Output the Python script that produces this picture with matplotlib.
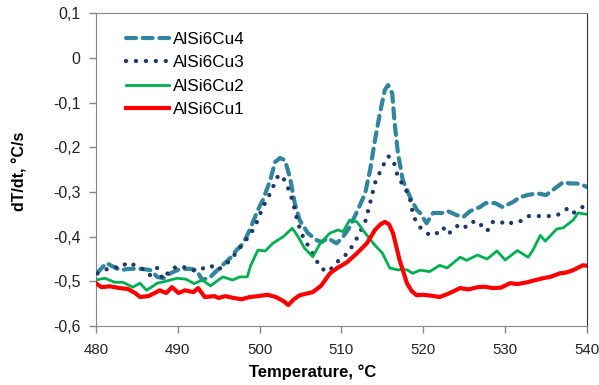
import matplotlib.pyplot as plt
from matplotlib.ticker import FixedLocator

plt.rcParams['font.family'] = ['Liberation Sans', 'DejaVu Sans']

# AlSi6Cu1 (red)
t_cu1 = [480, 480.7, 481.7, 482.9, 483.9, 484.8, 485.4, 486.4, 487.2, 487.8, 488.6, 489.3,
         490.1, 490.9, 491.9, 492.5, 493.3, 494.5, 495, 495.8, 496.8, 497.8, 498.8, 499.8,
         501, 502, 503, 503.5, 504.2, 504.9, 506.5, 507.5, 508.6, 509.5, 510.7, 511.9, 513.1,
         514.1, 514.8, 515.3, 515.8, 516.3, 517.1, 518, 518.6, 519.2, 520, 521, 522, 523,
         524.5, 525.5, 526.6, 527.5, 528.5, 529.5, 530.6, 531.5, 532.7, 533.5, 534.6, 535.5,
         536.7, 537.5, 538.3, 539.5, 540]
v_cu1 = [-0.504, -0.513, -0.511, -0.515, -0.517, -0.526, -0.535, -0.533, -0.526, -0.52, -0.526, -0.513,
         -0.526, -0.52, -0.524, -0.515, -0.535, -0.533, -0.537, -0.533, -0.537, -0.54, -0.535, -0.533,
         -0.53, -0.535, -0.545, -0.553, -0.54, -0.531, -0.524, -0.51, -0.482, -0.47, -0.457, -0.437, -0.415,
         -0.385, -0.372, -0.367, -0.372, -0.392, -0.452, -0.504, -0.522, -0.531, -0.53, -0.532, -0.535, -0.528,
         -0.515, -0.518, -0.513, -0.512, -0.515, -0.514, -0.504, -0.506, -0.502, -0.498, -0.493, -0.49,
         -0.482, -0.48, -0.475, -0.464, -0.465]

# AlSi6Cu2 (green)
t_cu2 = [480, 481.1, 482.3, 483.3, 484.5, 485.4, 486.2, 487.5, 488.5, 489.9, 491, 492, 493, 494,
         495.5, 496.7, 497.6, 498.5, 498.9, 499.8, 500.7, 501.6, 502.9, 504, 504.7, 505.5, 506.5,
         507.4, 508.6, 509.6, 510.2, 511, 511.9, 512.9, 513.9, 515, 515.9, 516.8, 518, 518.7,
         519.6, 520.8, 522, 522.9, 524.5, 525.3, 526.6, 527.8, 529, 530, 531.5, 532.8, 533.4,
         534.3, 534.9, 536.3, 537.1, 538.3, 538.9, 540]
v_cu2 = [-0.497, -0.493, -0.502, -0.502, -0.513, -0.504, -0.52, -0.504, -0.5, -0.493, -0.495, -0.505, -0.497, -0.51,
         -0.49, -0.497, -0.49, -0.49, -0.465, -0.43, -0.432, -0.415, -0.4, -0.381, -0.4, -0.426, -0.445,
         -0.415, -0.392, -0.385, -0.389, -0.363, -0.367, -0.392, -0.415, -0.437, -0.47, -0.474, -0.474, -0.482,
         -0.475, -0.478, -0.464, -0.47, -0.446, -0.453, -0.441, -0.45, -0.432, -0.452, -0.431, -0.446, -0.43,
         -0.397, -0.41, -0.383, -0.38, -0.363, -0.347, -0.35]

# AlSi6Cu3 (navy, dotted)
t_cu3 = [480.2, 481, 482.1, 483, 483.9, 485, 486, 486.6, 487.5, 488.2, 489.2, 490.3, 491.3, 492.3,
         493.2, 494, 494.8, 495.8, 496.6, 497.2, 498, 498.8, 499.5, 500.4, 501.3, 502.3, 502.8,
         503.7, 504.1, 504.7, 505.3, 506.4, 507.4, 508.2, 509, 509.8, 510.8, 511.9, 512.9, 513.5,
         514.1, 515, 515.7, 516.3, 516.9, 517.8, 518.4, 518.8, 519.6, 520.8, 521.5, 522.4, 523,
         524.1, 524.9, 525.7, 526.9, 527.3, 528, 528.5, 529.3, 530.2, 531.2, 532, 532.8, 533.8,
         534.6, 535.4, 536.2, 537.1, 537.7, 538.3, 539.1, 540]
v_cu3 = [-0.482, -0.475, -0.468, -0.47, -0.457, -0.466, -0.475, -0.486, -0.47, -0.495, -0.472, -0.465, -0.472, -0.477,
         -0.47, -0.464, -0.475, -0.464, -0.448, -0.435, -0.415, -0.397, -0.375, -0.334, -0.303, -0.262, -0.265,
         -0.3, -0.325, -0.37, -0.4, -0.435, -0.468, -0.479, -0.468, -0.45, -0.437, -0.403, -0.367, -0.325,
         -0.28, -0.244, -0.22, -0.227, -0.267, -0.292, -0.318, -0.355, -0.379, -0.397, -0.395, -0.379, -0.395,
         -0.376, -0.383, -0.367, -0.367, -0.385, -0.385, -0.367, -0.365, -0.374, -0.365, -0.365, -0.354, -0.354,
         -0.354, -0.354, -0.354, -0.343, -0.336, -0.347, -0.339, -0.325]

# AlSi6Cu4 (teal, dashed)
t_cu4 = [480.1, 481.3, 482, 483, 484, 485.6, 486.7, 487.5, 488.3, 489.1, 490.3, 491.6, 492.3, 493,
         494, 495, 496.4, 497.2, 498, 498.8, 499.8, 500.4, 501.3, 501.9, 502.5, 503.1, 503.7, 504.3,
         504.9, 505.9, 507, 507.6, 508.3, 509.4, 510.2, 511, 512, 512.9, 513.5, 514.1, 514.7, 515.3,
         515.7, 516.2, 516.5, 516.9, 517.5, 518.4, 519.2, 519.6, 520.4, 521.2, 522.4, 523, 524.1,
         524.9, 525.7, 526.9, 527.6, 528.8, 529.7, 531, 531.8, 532.7, 533.9, 535, 535.8, 537.1,
         537.9, 538.7, 539.3, 540]
v_cu4 = [-0.482, -0.459, -0.466, -0.475, -0.472, -0.472, -0.475, -0.49, -0.493, -0.482, -0.472, -0.472, -0.475, -0.497,
         -0.49, -0.472, -0.448, -0.43, -0.415, -0.385, -0.34, -0.318, -0.274, -0.233, -0.224, -0.229, -0.267, -0.325,
         -0.363, -0.392, -0.408, -0.412, -0.403, -0.415, -0.4, -0.379, -0.34, -0.303, -0.251, -0.184, -0.124, -0.072,
         -0.061, -0.079, -0.146, -0.213, -0.274, -0.312, -0.34, -0.347, -0.37, -0.347, -0.347, -0.343, -0.352,
         -0.356, -0.343, -0.334, -0.325, -0.325, -0.334, -0.322, -0.312, -0.307, -0.303, -0.307, -0.296, -0.278,
         -0.281, -0.281, -0.283, -0.289]

y_ticks = [0.1, 0, -0.1, -0.2, -0.3, -0.4, -0.5, -0.6]
y_labels = ['0,1', '0', '-0,1', '-0,2', '-0,3', '-0,4', '-0,5', '-0,6']
x_ticks = [480, 490, 500, 510, 520, 530, 540]

fig = plt.figure(figsize=(5.99, 3.85), dpi=100)
ax = fig.add_axes([0.160, 0.153, 0.820, 0.813])

ax.plot(t_cu4, v_cu4, color='#31859C', lw=3.0, linestyle=(0, (2.4, 1.6)),
        dash_capstyle='round', label='AlSi6Cu4', zorder=2)
ax.plot(t_cu3, v_cu3, color='#1F3864', lw=3.1, linestyle=(0, (0.01, 2.3)),
        dash_capstyle='round', label='AlSi6Cu3', zorder=3)
ax.plot(t_cu2, v_cu2, color='#00B050', lw=2.0, label='AlSi6Cu2', zorder=4)
ax.plot(t_cu1, v_cu1, color='#FF0000', lw=3.0, label='AlSi6Cu1', zorder=5)

ax.set_xlim(480, 540)
ax.set_ylim(-0.6, 0.1)
ax.xaxis.set_major_locator(FixedLocator(x_ticks))
ax.set_yticks(y_ticks)
ax.set_yticklabels(y_labels)
ax.tick_params(axis='both', direction='out', length=5, width=1, color='#868686',
               labelcolor='#222222')
ax.tick_params(axis='y', pad=6, labelsize=11.5)
ax.tick_params(axis='x', pad=7, labelsize=10.8)

for side in ['left', 'bottom', 'top']:
    ax.spines[side].set_color('#868686')
ax.spines['right'].set_color('#333333')

ax.set_xlabel('Temperature, °C', fontsize=12, fontweight='bold')
ax.xaxis.set_label_coords(0.442, -0.122)
ax.set_ylabel('dT/dt, °C/s', fontsize=11.5, fontweight='bold')
ax.yaxis.set_label_coords(-0.14, 0.495)

ax.legend(loc='upper left', bbox_to_anchor=(0.03, 0.99), frameon=False, fontsize=12.3,
          handlelength=2.5, handletextpad=0.25, labelspacing=0.5)

plt.savefig('out.png', dpi=100)
